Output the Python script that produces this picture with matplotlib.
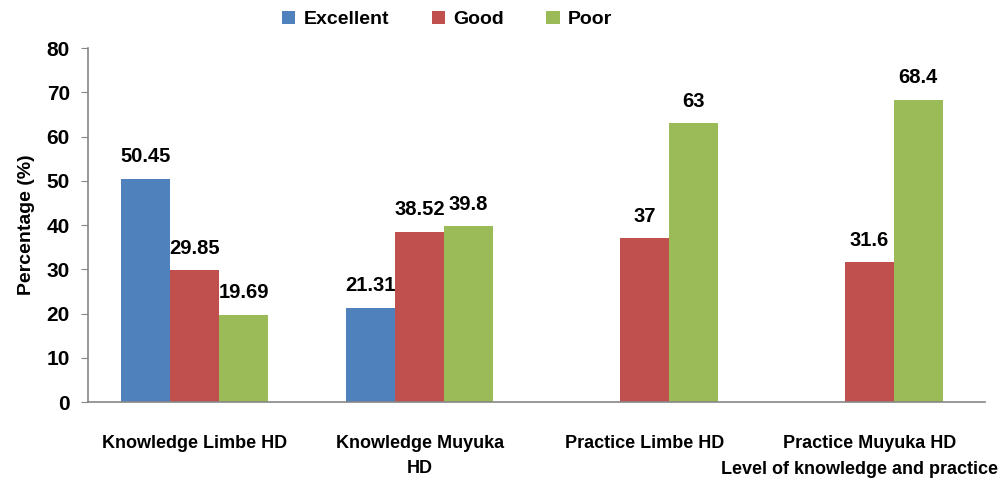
import matplotlib.pyplot as plt
import numpy as np

# Data
categories = ['Knowledge Limbe HD', 'Knowledge Muyuka\nHD', 'Practice Limbe HD', 'Practice Muyuka HD']
series_names = ['Excellent', 'Good', 'Poor']
excellent = [50.45, 21.31, np.nan, np.nan]
good = [29.85, 38.52, 37, 31.6]
poor = [19.69, 39.8, 63, 68.4]
yticks = [0, 10, 20, 30, 40, 50, 60, 70, 80]

colors = ['#4F81BD', '#C0504D', '#9BBB59']
plt.rcParams['font.family'] = ['Liberation Sans', 'DejaVu Sans']
plt.rcParams['font.weight'] = 'bold'

fig = plt.figure(figsize=(10, 4.87), dpi=100)
ax = fig.add_axes([0.088, 0.1745, 0.897, 0.7265])

x = np.arange(len(categories))
width = 0.218
all_series = [excellent, good, poor]

for i, (name, vals) in enumerate(zip(series_names, all_series)):
    pos = x + (i - 1) * width
    ax.bar(pos, vals, width, color=colors[i], label=name)
    for p, v in zip(pos, vals):
        if np.isnan(v):
            continue
        ax.annotate(f'{v:g}', (p, v), xytext=(0, 9), textcoords='offset points',
                    ha='center', va='bottom', fontsize=14.5, fontweight='bold')

ax.set_xlim(-0.475, 3.515)
ax.set_ylim(0, 80)
ax.set_yticks(yticks)
ax.set_xticks(x)
ax.set_xticklabels(categories, fontsize=13, fontweight='bold', linespacing=1.55)
ax.tick_params(axis='x', length=0, pad=24)
ax.tick_params(axis='y', labelsize=15, direction='out', length=5, color='#868686', pad=8)

for s in ['top', 'right']:
    ax.spines[s].set_visible(False)
for s in ['left', 'bottom']:
    ax.spines[s].set_color('#868686')
    ax.spines[s].set_linewidth(1.2)

ax.set_ylabel('Percentage (%)', fontsize=14, fontweight='bold', labelpad=8)
fig.text(0.998, 0.035, 'Level of knowledge and practice', ha='right', va='center',
         fontsize=13, fontweight='bold')

fig.legend(loc='center', bbox_to_anchor=(0.447, 0.96), ncol=3, frameon=False,
           fontsize=14, handlelength=0.7, handleheight=0.7, columnspacing=2.2,
           handletextpad=0.4)

fig.savefig('out.png', dpi=100, facecolor='white')
